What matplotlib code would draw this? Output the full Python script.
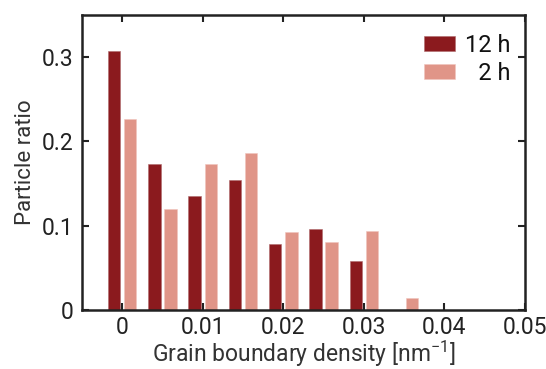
import numpy as np
import matplotlib
matplotlib.use("Agg")
import matplotlib.pyplot as plt

plt.rcParams['font.family'] = ['Roboto', 'DejaVu Sans']
plt.rcParams['mathtext.fontset'] = 'custom'
plt.rcParams['mathtext.rm'] = 'Roboto'
plt.rcParams['mathtext.default'] = 'rm'

# bin centres [nm^-1] and particle ratio per bin
bin_centers = [0.0, 0.005, 0.010, 0.015, 0.020, 0.025, 0.030, 0.035]
ratio_12h = [0.307, 0.173, 0.135, 0.154, 0.078, 0.096, 0.058, 0.0]
ratio_2h = [0.226, 0.120, 0.173, 0.186, 0.093, 0.080, 0.094, 0.014]
series_labels = ['12 h', '\u20072 h']
x_ticks = [0, 0.01, 0.02, 0.03, 0.04, 0.05]
x_ticklabels = ['0', '0.01', '0.02', '0.03', '0.04', '0.05']
y_ticks = [0, 0.1, 0.2, 0.3]
y_ticklabels = ['0', '0.1', '0.2', '0.3']

dark = '#8b1a1e'
light = '#e09588'

fig = plt.figure(figsize=(5.46, 3.69), dpi=100)
ax = fig.add_axes([0.150, 0.160, 0.8115, 0.800])

x = np.array(bin_centers)
w = 0.00155
off = 0.001
ax.bar(x - off, ratio_12h, width=w, color=dark, edgecolor='#b06a6c', linewidth=0.4,
       label=series_labels[0])
ax.bar(x + off, ratio_2h, width=w, color=light, edgecolor='#f0c4bd', linewidth=0.4,
       label=series_labels[1])

ax.set_xlim(-0.005, 0.05)
ax.set_ylim(0, 0.35)
ax.set_xticks(x_ticks)
ax.set_xticklabels(x_ticklabels)
ax.set_yticks(y_ticks)
ax.set_yticklabels(y_ticklabels)
ax.tick_params(direction='in', top=True, right=True, length=5, width=1.5,
               labelsize=16.5, colors='#222222', pad=6)
ax.tick_params(axis='x', pad=4)
for sp in ax.spines.values():
    sp.set_linewidth(1.8)
    sp.set_color('#222222')

ax.set_xlabel('Grain boundary density [nm$^{-1}$]', fontsize=16.5, color='#333333', labelpad=0)
ax.set_ylabel('Particle ratio', fontsize=16, color='#333333', labelpad=4)

leg = ax.legend(loc='upper right', frameon=False, fontsize=17, handlelength=1.3,
                handleheight=0.6, handletextpad=0.45, labelspacing=0.2,
                borderaxespad=0.3, bbox_to_anchor=(1.005, 0.99))
for t in leg.get_texts():
    t.set_color('#111111')

fig.savefig('out.png', dpi=100)
